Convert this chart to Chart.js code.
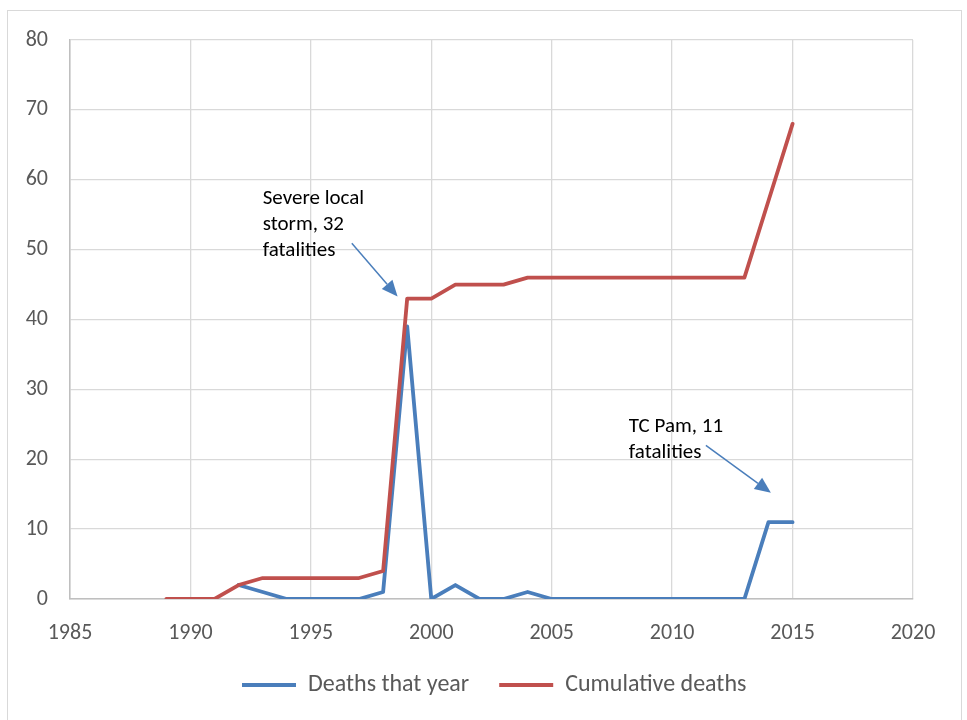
<!DOCTYPE html>
<html>
<head>
<meta charset="utf-8">
<script src="https://cdn.jsdelivr.net/npm/chart.js@4/dist/chart.umd.min.js"></script>
<style>
  html, body { margin: 0; padding: 0; background: #fff; }
  #wrap { position: relative; width: 967px; height: 720px; }
  #frame { position: absolute; left: 7px; top: 10px; width: 955px; height: 740px; border: 1.5px solid #d9d9d9; box-sizing: border-box; }
  canvas { position: absolute; left: 0; top: 0; }
</style>
</head>
<body>
<div id="wrap">
  <div id="frame"></div>
  <canvas id="chart" width="967" height="720"></canvas>
</div>
<script>
// Datos del gráfico
const years = [1989, 1990, 1991, 1992, 1993, 1994, 1995, 1996, 1997, 1998, 1999, 2000, 2001, 2002,
               2003, 2004, 2005, 2006, 2007, 2008, 2009, 2010, 2011, 2012, 2013, 2014, 2015];
const deathsThatYear = [null, null, null, 2, 1, 0, 0, 0, 0, 1, 39, 0, 2, 0,
                        0, 1, 0, 0, 0, 0, 0, 0, 0, 0, 0, 11, 11];
const cumulativeDeaths = [0, 0, 0, 2, 3, 3, 3, 3, 3, 4, 43, 43, 45, 45,
                          45, 46, 46, 46, 46, 46, 46, 46, 46, 46, 46, 57, 68];
const seriesNames = ['Deaths that year', 'Cumulative deaths'];
const xTicks = [1985, 2020, 5];
const yTicks = [0, 80, 10];

// Anotaciones (en coordenadas de datos)
const noteTexts = [['Severe local', 'storm, 32', 'fatalities'], ['TC Pam, 11', 'fatalities']];
const noteTextPos = [[1993.0, 57.3], [2008.2, 24.6]];
const noteArrowFrom = [[1996.7, 50.9], [2011.4, 22.0]];
const noteArrowTo = [[1998.6, 43.3], [2014.1, 15.2]];

const BLUE = '#4a7ebb';
const RED = '#c0504d';
const FONT = "Carlito, Lato, 'Open Sans', sans-serif";
const LEGEND_PAD = 30;
const LEGEND_FONT = 24;

function toPoints(values) {
    return years.map((y, i) => ({ x: y, y: values[i] }));
}

// Recolocar la leyenda como en el original
const legendPlacer = {
    id: 'legendPlacer',
    afterLayout(chart) {
        const lg = chart.legend;
        if (!lg || !lg.lineWidths) return;
        const dy = (685 - LEGEND_PAD - LEGEND_FONT / 2) - lg.top;
        lg.top += dy; lg.bottom += dy;
        const start = (lg.left + LEGEND_PAD + lg.right - lg.lineWidths[0]) / 2;
        const dx = 242 - start;
        lg.left += dx; lg.right += dx;
    }
};

// Plugin para dibujar flechas y textos
const notesPlugin = {
    id: 'notes',
    afterDatasetsDraw(chart) {
        const ctx = chart.ctx;
        const xs = chart.scales.x, ys = chart.scales.y;
        ctx.save();
        ctx.fillStyle = '#000';
        ctx.font = '21px ' + FONT;
        ctx.textBaseline = 'middle';
        ctx.textAlign = 'left';
        noteTexts.forEach((lines, i) => {
            const px = xs.getPixelForValue(noteTextPos[i][0]);
            const py = ys.getPixelForValue(noteTextPos[i][1]);
            lines.forEach((t, j) => ctx.fillText(t, px, py + j * 26));
        });
        noteArrowFrom.forEach((from, i) => {
            const x1 = xs.getPixelForValue(from[0]), y1 = ys.getPixelForValue(from[1]);
            const x2 = xs.getPixelForValue(noteArrowTo[i][0]), y2 = ys.getPixelForValue(noteArrowTo[i][1]);
            const ang = Math.atan2(y2 - y1, x2 - x1);
            const len = 16, half = 7;
            const bx = x2 - len * Math.cos(ang), by = y2 - len * Math.sin(ang);
            ctx.strokeStyle = BLUE;
            ctx.lineWidth = 1.5;
            ctx.beginPath();
            ctx.moveTo(x1, y1);
            ctx.lineTo(bx, by);
            ctx.stroke();
            ctx.fillStyle = BLUE;
            ctx.beginPath();
            ctx.moveTo(x2, y2);
            ctx.lineTo(bx + half * Math.sin(ang), by - half * Math.cos(ang));
            ctx.lineTo(bx - half * Math.sin(ang), by + half * Math.cos(ang));
            ctx.closePath();
            ctx.fill();
            ctx.fillStyle = '#000';
        });
        ctx.restore();
    }
};

const ctx = document.getElementById('chart').getContext('2d');
new Chart(ctx, {
    type: 'line',
    data: {
        datasets: [
            {
                label: seriesNames[0],
                data: toPoints(deathsThatYear),
                borderColor: BLUE,
                backgroundColor: BLUE,
                borderWidth: 3.8,
                pointRadius: 0,
                tension: 0,
                borderJoinStyle: 'round',
                borderCapStyle: 'round',
                order: 2
            },
            {
                label: seriesNames[1],
                data: toPoints(cumulativeDeaths),
                borderColor: RED,
                backgroundColor: RED,
                borderWidth: 3.8,
                pointRadius: 0,
                tension: 0,
                borderJoinStyle: 'round',
                borderCapStyle: 'round',
                order: 1
            }
        ]
    },
    options: {
        responsive: false,
        animation: false,
        layout: { padding: { left: 0, right: 54, top: 40, bottom: 5 } },
        plugins: {
            tooltip: { enabled: false },
            legend: {
                position: 'bottom',
                labels: {
                    color: '#595959',
                    font: { family: FONT, size: LEGEND_FONT },
                    boxWidth: 54,
                    boxHeight: 4,
                    padding: LEGEND_PAD,
                    generateLabels(chart) {
                        return chart.data.datasets.map((ds, i) => ({
                            text: ds.label,
                            fillStyle: ds.borderColor,
                            strokeStyle: ds.borderColor,
                            lineWidth: 0,
                            fontColor: '#595959',
                            datasetIndex: i
                        }));
                    }
                }
            }
        },
        scales: {
            x: {
                type: 'linear',
                min: xTicks[0],
                max: xTicks[1],
                afterFit(scale) { scale.height = 52; },
                ticks: {
                    stepSize: xTicks[2],
                    color: '#595959',
                    font: { family: FONT, size: 22 },
                    padding: 21,
                    callback: v => String(v)
                },
                grid: { color: '#d9d9d9', lineWidth: 1.3, drawTicks: false },
                border: { color: '#bfbfbf', width: 1.5 }
            },
            y: {
                min: yTicks[0],
                max: yTicks[1],
                afterFit(scale) { scale.width = 70; },
                ticks: {
                    stepSize: yTicks[2],
                    color: '#595959',
                    font: { family: FONT, size: 22 },
                    padding: 22
                },
                grid: { color: '#d9d9d9', lineWidth: 1.3, drawTicks: false },
                border: { color: '#bfbfbf', width: 1.5 }
            }
        }
    },
    plugins: [legendPlacer, notesPlugin]
});
</script>
</body>
</html>
